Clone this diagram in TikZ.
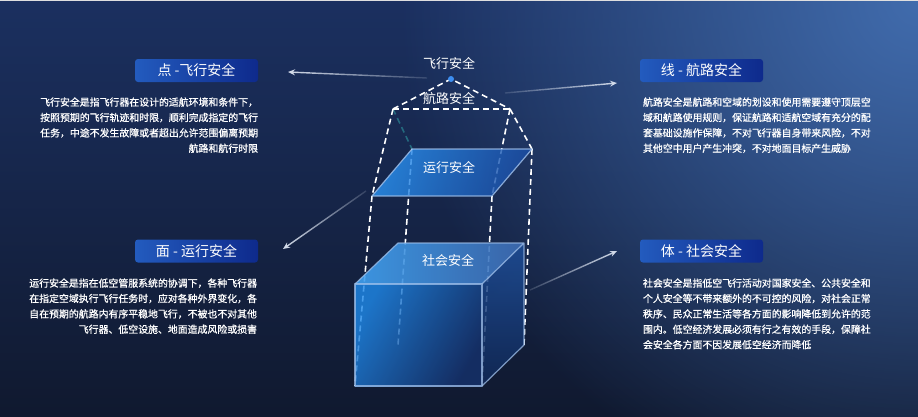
\documentclass[tikz,border=0pt]{standalone}
\usepackage{fontspec}
\setmainfont{Noto Sans CJK SC}
\newfontfamily\bodyfont{Noto Sans CJK SC}[FakeBold=0.8]
\usepackage{xcolor}
\usetikzlibrary{
    arrows.meta,
    fadings,
    shadings,
    positioning
}

\definecolor{bgTop}{HTML}{1B3060}
\definecolor{bgMid}{HTML}{1E396A}
\definecolor{bgBot}{HTML}{10192F}
\definecolor{bgGlow}{HTML}{416CAD}
\definecolor{boxL}{HTML}{235BBE}
\definecolor{boxR}{HTML}{0E2A8C}
\definecolor{arrowcol}{HTML}{D4DCEA}
\definecolor{hiddencol}{HTML}{24697E}
\definecolor{edgecol}{HTML}{A2C2EC}
\definecolor{dotcol}{HTML}{3D8EF0}
\definecolor{planeA}{HTML}{2A92F2}
\definecolor{planeB}{HTML}{1B4EA6}
\definecolor{frontA}{HTML}{1F88E8}
\definecolor{frontB}{HTML}{15316C}
\definecolor{topA}{HTML}{40A2F2}
\definecolor{topB}{HTML}{3E6BB2}
\definecolor{sideA}{HTML}{1E4F99}
\definecolor{sideB}{HTML}{112958}

\tikzfading[name=tipwest, left color=transparent!0, right color=transparent!85]
\tikzfading[name=tipeast, left color=transparent!85, right color=transparent!0]
\tikzfading[name=glow, inner color=transparent!0, outer color=transparent!100]

\tikzset{
    titlebox/.style={rounded corners=3pt, left color=boxL, right color=boxR,
        minimum width=123pt, minimum height=23pt, inner sep=0pt,
        text=white, font=\fontsize{14}{16}\selectfont},
    bodyleft/.style={text=white, font=\bodyfont\fontsize{9.9}{15.4}\selectfont,
        align=right, inner sep=0pt},
    bodyright/.style={text=white, font=\bodyfont\fontsize{9.9}{15.4}\selectfont,
        align=left, inner sep=0pt},
    shapelabel/.style={text=white, font=\fontsize{13}{15}\selectfont},
    guide/.style={draw=white, line width=1.6pt, dash pattern=on 6pt off 4pt},
    hiddenguide/.style={guide, draw=hiddencol},
    faceedge/.style={draw=edgecol, line width=1.2pt, line join=round},
    pointer/.style={-{Stealth[length=7pt,width=6pt]}, draw=arrowcol, line width=1.4pt}
}

\begin{document}
\begin{tikzpicture}[x=1pt, y=-1pt]
    \useasboundingbox (0,0) rectangle (918,416);
    \shade[top color=bgTop, middle color=bgMid, bottom color=bgBot]
        (0,0) rectangle (918,416);
    \begin{scope}
        \clip (0,0) rectangle (918,416);
        \fill[bgGlow, path fading=glow] (918,0) circle (520pt);
    \end{scope}
    \fill[gray!25] (0,0) rectangle (918,1.2);

    \coordinate (apex) at (451,79);
    \coordinate (L) at (393,109);
    \coordinate (R) at (510,109);
    \coordinate (pBL) at (412,149);
    \coordinate (pBR) at (532,149);
    \coordinate (pFR) at (492,196);
    \coordinate (pFL) at (372,196);
    \coordinate (cFTL) at (355,284);
    \coordinate (cFTR) at (482,284);
    \coordinate (cFBR) at (482,386);
    \coordinate (cFBL) at (355,386);
    \coordinate (cBTL) at (398,243);
    \coordinate (cBTR) at (524,243);
    \coordinate (cBBR) at (524,345);
    \coordinate (cBBL) at (398,345);

    \node[titlebox] (pt) at (196.5,70.5) {点 -飞行安全};
    \node[titlebox] (ln) at (701.5,70.5) {线 - 航路安全};
    \node[titlebox] (pl) at (196.5,251) {面 - 运行安全};
    \node[titlebox] (bd) at (701.5,251) {体 - 社会安全};

    \node[bodyleft, below left=15pt and 0pt of pt.south east] (pttext)
        {飞行安全是指飞行器在设计的适航环境和条件下，\\
         按照预期的飞行轨迹和时限，顺利完成指定的飞行\\
         任务，中途不发生故障或者超出允许范围偏离预期\\
         航路和航行时限};
    \node[bodyright, below right=15pt and 3pt of ln.south west] (lntext)
        {航路安全是航路和空域的划设和使用需要遵守顶层空\\
         域和航路使用规则，保证航路和适航空域有充分的配\\
         套基础设施作保障，不对飞行器自身带来风险，不对\\
         其他空中用户产生冲突，不对地面目标产生威胁};
    \node[bodyleft, below left=15.5pt and 1pt of pl.south east] (pltext)
        {运行安全是指在低空管服系统的协调下，各种飞行器\\
         在指定空域执行飞行任务时，应对各种外界变化，各\\
         自在预期的航路内有序平稳地飞行，不被也不对其他\\
         飞行器、低空设施、地面造成风险或损害};
    \node[bodyright, below right=15.5pt and 3pt of bd.south west] (bdtext)
        {社会安全是指低空飞行活动对国家安全、公共安全和\\
         个人安全等不带来额外的不可控的风险，对社会正常\\
         秩序、民众正常生活等各方面的影响降低到允许的范\\
         围内。低空经济发展必须有行之有效的手段，保障社\\
         会安全各方面不因发展低空经济而降低};

    \coordinate (ptfrom) at (427,78);
    \coordinate (ptto) at (288,72);
    \coordinate (lnfrom) at (505,93);
    \coordinate (lnto) at (617,83);
    \coordinate (plfrom) at (366,191);
    \coordinate (plto) at (283,249);
    \coordinate (bdfrom) at (530,290);
    \coordinate (bdto) at (617,251);
    \draw[pointer, path fading=tipwest] (ptfrom) -- (ptto);
    \draw[pointer, path fading=tipeast] (lnfrom) -- (lnto);
    \draw[pointer, path fading=tipwest] (plfrom) -- (plto);
    \draw[pointer, path fading=tipeast] (bdfrom) -- (bdto);

    \draw[hiddenguide] (L) -- (pBL);
    \draw[guide] (L) -- (apex) -- (R);
    \draw[guide] (L) -- (R);
    \draw[guide] (L) -- (pFL);
    \draw[guide] (R) -- (pFR);
    \draw[guide] (R) -- (pBR);
    \draw[guide] (pFL) -- (cFBL);
    \draw[guide] (pFR) -- (cFBR);
    \draw[guide] (pBR) -- (cBBR);
    \draw[guide] (pBL) -- (cBBL);

    \shade[fill opacity=0.82, left color=planeA, right color=planeB, shading angle=70]
        (pBL) -- (pBR) -- (pFR) -- (pFL) -- cycle;
    \draw[faceedge, draw opacity=0.8] (pBL) -- (pBR) -- (pFR) -- (pFL) -- cycle;

    \shade[fill opacity=0.85, top color=sideA, bottom color=sideB]
        (cFTR) -- (cBTR) -- (cBBR) -- (cFBR) -- cycle;
    \shade[fill opacity=0.9, left color=topA, right color=topB]
        (cFTL) -- (cBTL) -- (cBTR) -- (cFTR) -- cycle;
    \shade[fill opacity=0.82, left color=frontA, right color=frontB, shading angle=60]
        (cFTL) -- (cFTR) -- (cFBR) -- (cFBL) -- cycle;
    \draw[faceedge, draw opacity=0.75] (cFTL) -- (cBTL) -- (cBTR) -- (cBBR) -- (cFBR)
        (cFTR) -- (cBTR);
    \draw[faceedge, draw opacity=0.75] (cFTL) rectangle (cFBR);

    \fill[dotcol] (apex) circle (3pt);
    \node[shapelabel] (ptlabel) at (449,64) {飞行安全};
    \node[shapelabel] (lnlabel) at (449,99) {航路安全};
    \node[shapelabel] (pllabel) at (449,168) {运行安全};
    \node[shapelabel] (bdlabel) at (448,260) {社会安全};
\end{tikzpicture}
\end{document}
